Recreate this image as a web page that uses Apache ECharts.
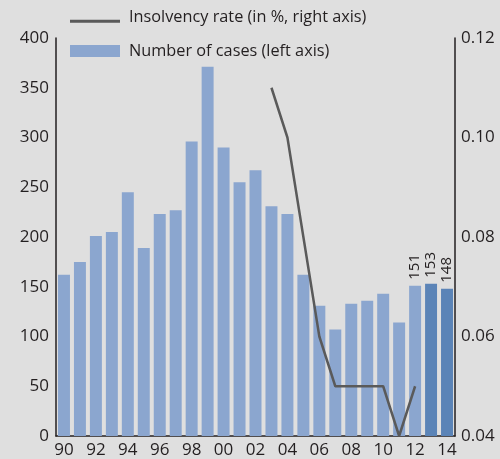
<!DOCTYPE html>
<html>
<head>
<meta charset="utf-8">
<script src="https://cdn.jsdelivr.net/npm/echarts@6/dist/echarts.min.js"></script>
<style>
  html, body { margin: 0; padding: 0; background: #dfdfdf; }
  #chart { width: 500px; height: 459px; }
</style>
</head>
<body>
<div id="chart"></div>
<script>
// Years shown on the category axis (two-digit labels)
const years = ['90','91','92','93','94','95','96','97','98','99','00','01','02','03','04','05','06','07','08','09','10','11','12','13','14'];
// Number of insolvency cases per year (left axis)
const cases = [162, 175, 201, 205, 245, 189, 223, 227, 296, 371, 290, 255, 267, 231, 223, 162, 131, 107, 133, 136, 143, 114, 151, 153, 148];
// Insolvency rate in % (right axis); no values before 2003 or after 2012
const rate = [null, null, null, null, null, null, null, null, null, null, null, null, null, 0.11, 0.10, 0.08, 0.06, 0.05, 0.05, 0.05, 0.05, 0.04, 0.05, null, null];
// Years drawn in the darker shade
const darkYears = ['13', '14'];
// Years whose bar carries a value label
const labelledYears = ['12', '13', '14'];
// Right-axis tick values
const rateTicks = [0.04, 0.06, 0.08, 0.10, 0.12];

const lineName = 'Insolvency rate (in %, right axis)';
const barName = 'Number of cases (left axis)';
const FONT = '"Open Sans", sans-serif';
const TEXT = '#231f20';

const barData = cases.map((v, i) => {
  const item = { value: v };
  if (darkYears.includes(years[i])) item.itemStyle = { color: '#5b84b7' };
  if (labelledYears.includes(years[i])) {
    item.label = {
      show: true, position: 'top', rotate: 90, align: 'left', verticalAlign: 'middle',
      distance: 6, fontFamily: FONT, fontSize: 15, color: TEXT
    };
  }
  return item;
});

const chart = echarts.init(document.getElementById('chart'), null, { renderer: 'canvas' });
chart.setOption({
  backgroundColor: '#dfdfdf',
  animation: false,
  textStyle: { fontFamily: FONT },
  legend: {
    orient: 'vertical',
    left: 70,
    top: 9,
    padding: 0,
    itemWidth: 50,
    itemHeight: 12,
    itemGap: 18,
    textStyle: { fontFamily: FONT, fontSize: 16.3, color: TEXT, padding: [0, 0, 0, 4] },
    data: [
      { name: lineName, icon: 'path://M0,0 L0.01,0 L0.01,0.01 Z M0,8.5 H50 V11.5 H0 Z', itemStyle: { color: '#5a5a5a' } },
      { name: barName, icon: 'rect' }
    ]
  },
  grid: { left: 56, right: 45, top: 38, bottom: 23, containLabel: false },
  xAxis: {
    type: 'category',
    data: years,
    axisLine: { lineStyle: { color: '#231f20', width: 1.5 } },
    axisTick: { show: false },
    axisLabel: { interval: 1, fontFamily: FONT, fontSize: 17, color: TEXT, margin: 6 }
  },
  yAxis: [
    {
      type: 'value', min: 0, max: 400, interval: 50,
      axisLine: { show: true, lineStyle: { color: '#231f20', width: 1.5 } },
      axisTick: { show: false },
      splitLine: { show: false },
      axisLabel: { fontFamily: FONT, fontSize: 17, color: TEXT, margin: 7 }
    },
    {
      type: 'value', min: rateTicks[0], max: rateTicks[rateTicks.length - 1], interval: 0.02,
      position: 'right',
      axisLine: { show: true, lineStyle: { color: '#231f20', width: 1.5 } },
      axisTick: { show: false },
      splitLine: { show: false },
      axisLabel: { fontFamily: FONT, fontSize: 17, color: TEXT, margin: 6, formatter: v => v.toFixed(2) }
    }
  ],
  series: [
    {
      name: barName, type: 'bar', yAxisIndex: 0,
      data: barData,
      barWidth: '75%',
      itemStyle: { color: '#8ba6cf' }
    },
    {
      name: lineName, type: 'line', yAxisIndex: 1,
      data: rate,
      symbol: 'none',
      connectNulls: false,
      lineStyle: { color: '#5a5a5a', width: 2.5 },
      itemStyle: { color: '#5a5a5a' }
    }
  ]
});
</script>
</body>
</html>
